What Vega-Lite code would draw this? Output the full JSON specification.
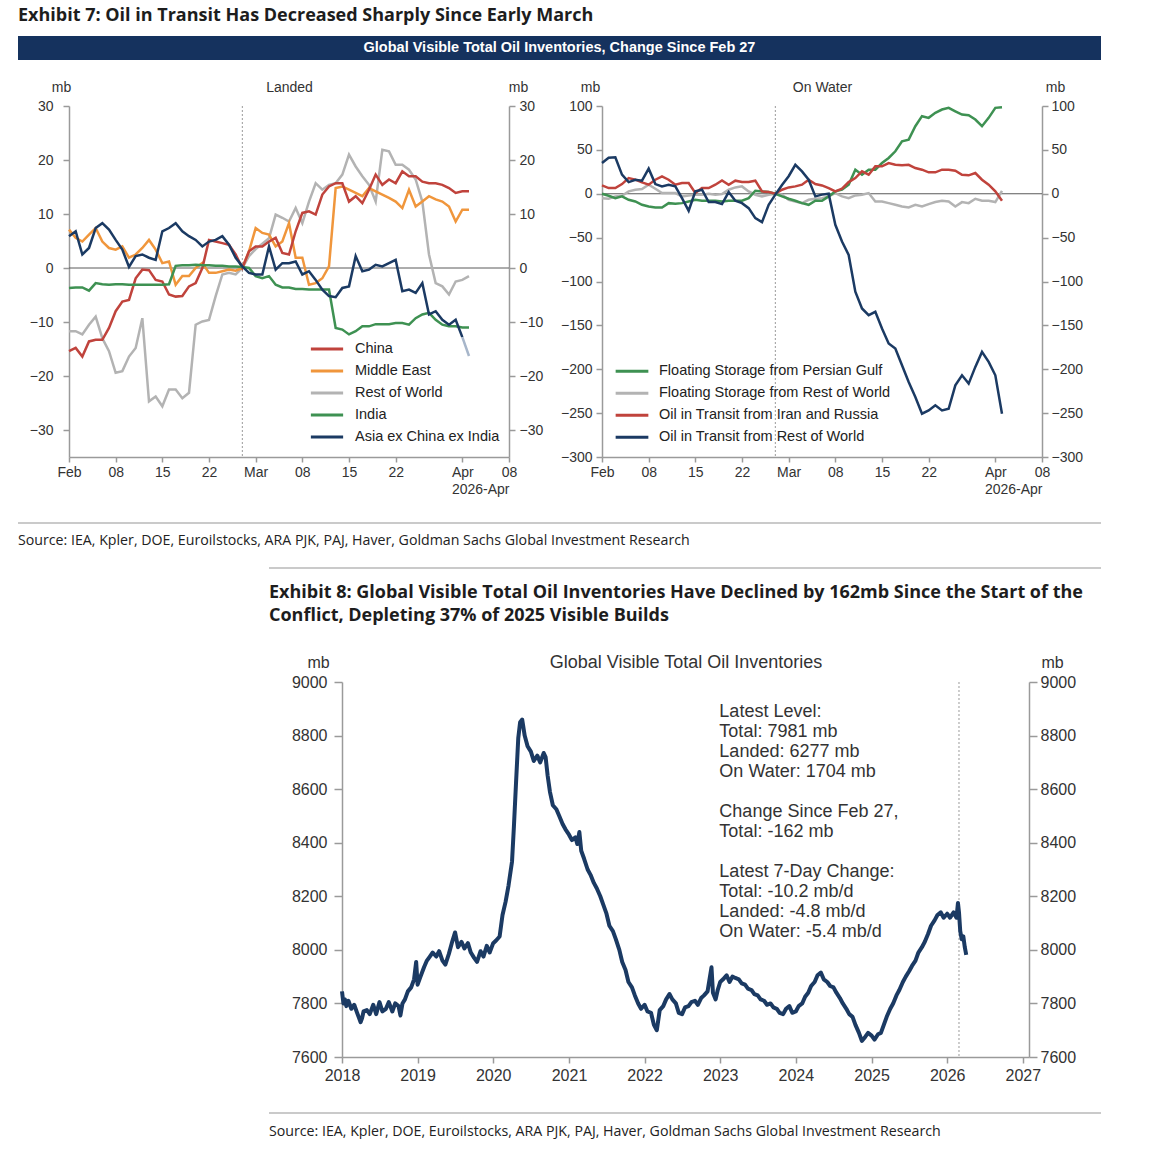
{
  "$schema": "https://vega.github.io/schema/vega-lite/v6.json",
  "padding": {"left": 17, "top": 7, "right": 0, "bottom": 0},
  "background": "white",
  "bounds": "flush",
  "spacing": 0,
  "resolve": {"scale": {"color": "independent"}, "legend": {"color": "independent"}},
  "config": {
    "view": {"stroke": null},
    "font": "Liberation Sans",
    "axis": {"grid": false, "domainColor": "#9a9a9a", "tickColor": "#9a9a9a", "domainWidth": 1.5, "tickWidth": 1.5, "labelColor": "#333333", "titleColor": "#333333", "labelFont": "Liberation Sans", "titleFont": "Liberation Sans", "titleFontWeight": "normal", "labelFlush": false, "labelOverlap": false},
    "legend": {"labelFont": "Liberation Sans", "labelColor": "#222222", "labelLimit": 400}
  },
  "datasets": {
    "landed": [
      {"date":"2026-02-01","China":-15.4,"Middle East":7.1,"Rest of World":-11.7,"India":-3.7,"Asia ex China ex India":5.9},
      {"date":"2026-02-02","China":-14.8,"Middle East":5.6,"Rest of World":-11.7,"India":-3.6,"Asia ex China ex India":6.8},
      {"date":"2026-02-03","China":-16.4,"Middle East":4.9,"Rest of World":-12.3,"India":-3.6,"Asia ex China ex India":2.5},
      {"date":"2026-02-04","China":-13.6,"Middle East":6.2,"Rest of World":-10.5,"India":-4.2,"Asia ex China ex India":3.7},
      {"date":"2026-02-05","China":-13.3,"Middle East":7.4,"Rest of World":-9.0,"India":-2.8,"Asia ex China ex India":7.4},
      {"date":"2026-02-06","China":-13.3,"Middle East":4.9,"Rest of World":-13.0,"India":-3.0,"Asia ex China ex India":8.3},
      {"date":"2026-02-07","China":-11.1,"Middle East":3.7,"Rest of World":-15.4,"India":-3.1,"Asia ex China ex India":7.1},
      {"date":"2026-02-08","China":-8.0,"Middle East":3.4,"Rest of World":-19.4,"India":-3.0,"Asia ex China ex India":5.2},
      {"date":"2026-02-09","China":-6.2,"Middle East":4.0,"Rest of World":-19.1,"India":-3.0,"Asia ex China ex India":3.4},
      {"date":"2026-02-10","China":-5.9,"Middle East":1.9,"Rest of World":-16.4,"India":-3.1,"Asia ex China ex India":0.2},
      {"date":"2026-02-11","China":-1.9,"Middle East":2.5,"Rest of World":-14.8,"India":-3.1,"Asia ex China ex India":2.2},
      {"date":"2026-02-12","China":-0.3,"Middle East":3.7,"Rest of World":-9.3,"India":-3.1,"Asia ex China ex India":2.5},
      {"date":"2026-02-13","China":-0.4,"Middle East":5.2,"Rest of World":-24.7,"India":-3.1,"Asia ex China ex India":1.9},
      {"date":"2026-02-14","China":-2.2,"Middle East":3.4,"Rest of World":-23.8,"India":-3.1,"Asia ex China ex India":1.5},
      {"date":"2026-02-15","China":-2.5,"Middle East":0.9,"Rest of World":-25.6,"India":-3.1,"Asia ex China ex India":6.8},
      {"date":"2026-02-16","China":-4.9,"Middle East":1.2,"Rest of World":-22.5,"India":-3.0,"Asia ex China ex India":7.4},
      {"date":"2026-02-17","China":-5.3,"Middle East":-3.1,"Rest of World":-22.5,"India":0.4,"Asia ex China ex India":8.3},
      {"date":"2026-02-18","China":-5.2,"Middle East":-1.5,"Rest of World":-24.1,"India":0.5,"Asia ex China ex India":6.8},
      {"date":"2026-02-19","China":-3.4,"Middle East":-1.5,"Rest of World":-23.1,"India":0.5,"Asia ex China ex India":5.9},
      {"date":"2026-02-20","China":-2.8,"Middle East":0.0,"Rest of World":-10.5,"India":0.6,"Asia ex China ex India":5.2},
      {"date":"2026-02-21","China":0.0,"Middle East":0.9,"Rest of World":-9.9,"India":0.5,"Asia ex China ex India":4.0},
      {"date":"2026-02-22","China":5.2,"Middle East":-0.9,"Rest of World":-9.6,"India":0.5,"Asia ex China ex India":4.9},
      {"date":"2026-02-23","China":4.9,"Middle East":-0.9,"Rest of World":-5.2,"India":0.4,"Asia ex China ex India":5.2},
      {"date":"2026-02-24","China":4.6,"Middle East":-0.6,"Rest of World":-1.2,"India":0.4,"Asia ex China ex India":5.9},
      {"date":"2026-02-25","China":4.3,"Middle East":-0.3,"Rest of World":-0.9,"India":0.3,"Asia ex China ex India":4.3},
      {"date":"2026-02-26","China":2.5,"Middle East":-0.5,"Rest of World":-1.2,"India":0.3,"Asia ex China ex India":1.9},
      {"date":"2026-02-27","China":0.0,"Middle East":0.0,"Rest of World":0.0,"India":0.2,"Asia ex China ex India":0.3},
      {"date":"2026-02-28","China":3.1,"Middle East":3.1,"Rest of World":2.2,"India":0.0,"Asia ex China ex India":-0.9},
      {"date":"2026-03-01","China":4.0,"Middle East":7.4,"Rest of World":3.5,"India":-1.5,"Asia ex China ex India":-1.2},
      {"date":"2026-03-02","China":4.0,"Middle East":6.5,"Rest of World":4.5,"India":-1.9,"Asia ex China ex India":-1.2},
      {"date":"2026-03-03","China":4.9,"Middle East":6.2,"Rest of World":5.5,"India":-1.5,"Asia ex China ex India":4.0},
      {"date":"2026-03-04","China":5.6,"Middle East":4.0,"Rest of World":9.9,"India":-3.1,"Asia ex China ex India":-0.3},
      {"date":"2026-03-05","China":2.8,"Middle East":4.9,"Rest of World":9.3,"India":-3.6,"Asia ex China ex India":0.9},
      {"date":"2026-03-06","China":2.5,"Middle East":8.3,"Rest of World":8.6,"India":-3.6,"Asia ex China ex India":0.9},
      {"date":"2026-03-07","China":6.8,"Middle East":1.9,"Rest of World":11.1,"India":-3.9,"Asia ex China ex India":1.2},
      {"date":"2026-03-08","China":10.2,"Middle East":1.9,"Rest of World":8.3,"India":-3.9,"Asia ex China ex India":-1.2},
      {"date":"2026-03-09","China":10.5,"Middle East":-3.1,"Rest of World":12.3,"India":-4.0,"Asia ex China ex India":-0.6},
      {"date":"2026-03-10","China":9.9,"Middle East":-2.8,"Rest of World":15.7,"India":-4.0,"Asia ex China ex India":-2.2},
      {"date":"2026-03-11","China":13.6,"Middle East":-1.9,"Rest of World":14.5,"India":-4.0,"Asia ex China ex India":-4.0},
      {"date":"2026-03-12","China":15.1,"Middle East":0.3,"Rest of World":15.4,"India":-4.0,"Asia ex China ex India":-5.2},
      {"date":"2026-03-13","China":15.7,"Middle East":14.8,"Rest of World":15.7,"India":-11.1,"Asia ex China ex India":-5.4},
      {"date":"2026-03-14","China":15.7,"Middle East":15.1,"Rest of World":17.3,"India":-11.4,"Asia ex China ex India":-3.7},
      {"date":"2026-03-15","China":12.3,"Middle East":14.5,"Rest of World":21.0,"India":-12.3,"Asia ex China ex India":-3.4},
      {"date":"2026-03-16","China":13.3,"Middle East":13.9,"Rest of World":18.8,"India":-11.7,"Asia ex China ex India":2.2},
      {"date":"2026-03-17","China":12.0,"Middle East":13.3,"Rest of World":17.0,"India":-10.8,"Asia ex China ex India":-0.6},
      {"date":"2026-03-18","China":14.5,"Middle East":14.8,"Rest of World":15.4,"India":-10.8,"Asia ex China ex India":-0.3},
      {"date":"2026-03-19","China":17.3,"Middle East":14.2,"Rest of World":12.3,"India":-10.4,"Asia ex China ex India":0.6},
      {"date":"2026-03-20","China":15.4,"Middle East":13.6,"Rest of World":21.9,"India":-10.4,"Asia ex China ex India":0.3},
      {"date":"2026-03-21","China":16.4,"Middle East":13.0,"Rest of World":21.6,"India":-10.4,"Asia ex China ex India":0.9},
      {"date":"2026-03-22","China":15.7,"Middle East":12.3,"Rest of World":19.1,"India":-10.2,"Asia ex China ex India":1.5},
      {"date":"2026-03-23","China":17.9,"Middle East":11.1,"Rest of World":19.1,"India":-10.2,"Asia ex China ex India":-4.3},
      {"date":"2026-03-24","China":17.0,"Middle East":14.5,"Rest of World":18.2,"India":-10.5,"Asia ex China ex India":-4.0},
      {"date":"2026-03-25","China":17.0,"Middle East":11.4,"Rest of World":16.4,"India":-9.3,"Asia ex China ex India":-4.6},
      {"date":"2026-03-26","China":16.0,"Middle East":12.3,"Rest of World":12.3,"India":-8.6,"Asia ex China ex India":-2.8},
      {"date":"2026-03-27","China":15.7,"Middle East":13.3,"Rest of World":2.5,"India":-8.3,"Asia ex China ex India":-8.6},
      {"date":"2026-03-28","China":15.7,"Middle East":12.7,"Rest of World":-2.8,"India":-9.6,"Asia ex China ex India":-8.0},
      {"date":"2026-03-29","China":15.4,"Middle East":12.3,"Rest of World":-3.4,"India":-10.5,"Asia ex China ex India":-9.6},
      {"date":"2026-03-30","China":14.8,"Middle East":11.4,"Rest of World":-4.9,"India":-10.8,"Asia ex China ex India":-10.5},
      {"date":"2026-03-31","China":13.9,"Middle East":8.6,"Rest of World":-2.5,"India":-10.8,"Asia ex China ex India":-9.6},
      {"date":"2026-04-01","China":14.2,"Middle East":10.8,"Rest of World":-2.2,"India":-11.0,"Asia ex China ex India":-12.8},
      {"date":"2026-04-02","China":14.2,"Middle East":10.8,"Rest of World":-1.5,"India":-11.0,"Asia ex China ex India":null}
    ],
    "water": [
      {"date":"2026-02-01","Floating Storage from Persian Gulf":0,"Floating Storage from Rest of World":-5,"Oil in Transit from Iran and Russia":9.5,"Oil in Transit from Rest of World":35},
      {"date":"2026-02-02","Floating Storage from Persian Gulf":-2.3,"Floating Storage from Rest of World":-5.7,"Oil in Transit from Iran and Russia":6.5,"Oil in Transit from Rest of World":41},
      {"date":"2026-02-03","Floating Storage from Persian Gulf":-5,"Floating Storage from Rest of World":-3,"Oil in Transit from Iran and Russia":6.5,"Oil in Transit from Rest of World":41.5},
      {"date":"2026-02-04","Floating Storage from Persian Gulf":-3,"Floating Storage from Rest of World":-2.3,"Oil in Transit from Iran and Russia":11,"Oil in Transit from Rest of World":21.7},
      {"date":"2026-02-05","Floating Storage from Persian Gulf":-6.9,"Floating Storage from Rest of World":2.7,"Oil in Transit from Iran and Russia":17.9,"Oil in Transit from Rest of World":13.3},
      {"date":"2026-02-06","Floating Storage from Persian Gulf":-8.8,"Floating Storage from Rest of World":4.6,"Oil in Transit from Iran and Russia":16,"Oil in Transit from Rest of World":16},
      {"date":"2026-02-07","Floating Storage from Persian Gulf":-12.6,"Floating Storage from Rest of World":5.3,"Oil in Transit from Iran and Russia":13,"Oil in Transit from Rest of World":14.9},
      {"date":"2026-02-08","Floating Storage from Persian Gulf":-14.5,"Floating Storage from Rest of World":10.3,"Oil in Transit from Iran and Russia":10.3,"Oil in Transit from Rest of World":28.6},
      {"date":"2026-02-09","Floating Storage from Persian Gulf":-15.6,"Floating Storage from Rest of World":5.7,"Oil in Transit from Iran and Russia":16,"Oil in Transit from Rest of World":11},
      {"date":"2026-02-10","Floating Storage from Persian Gulf":-15.6,"Floating Storage from Rest of World":0.8,"Oil in Transit from Iran and Russia":19.8,"Oil in Transit from Rest of World":8.4},
      {"date":"2026-02-11","Floating Storage from Persian Gulf":-10.7,"Floating Storage from Rest of World":0.8,"Oil in Transit from Iran and Russia":16,"Oil in Transit from Rest of World":10.3},
      {"date":"2026-02-12","Floating Storage from Persian Gulf":-11.4,"Floating Storage from Rest of World":0.8,"Oil in Transit from Iran and Russia":10.3,"Oil in Transit from Rest of World":8.4},
      {"date":"2026-02-13","Floating Storage from Persian Gulf":-10.7,"Floating Storage from Rest of World":-3,"Oil in Transit from Iran and Russia":12.2,"Oil in Transit from Rest of World":-5},
      {"date":"2026-02-14","Floating Storage from Persian Gulf":-8.8,"Floating Storage from Rest of World":-1.9,"Oil in Transit from Iran and Russia":12.2,"Oil in Transit from Rest of World":-19.4},
      {"date":"2026-02-15","Floating Storage from Persian Gulf":-6.9,"Floating Storage from Rest of World":-1.1,"Oil in Transit from Iran and Russia":0.8,"Oil in Transit from Rest of World":2.7},
      {"date":"2026-02-16","Floating Storage from Persian Gulf":-8,"Floating Storage from Rest of World":-1.1,"Oil in Transit from Iran and Russia":6.5,"Oil in Transit from Rest of World":4.6},
      {"date":"2026-02-17","Floating Storage from Persian Gulf":-8,"Floating Storage from Rest of World":0,"Oil in Transit from Iran and Russia":6.5,"Oil in Transit from Rest of World":-9.5},
      {"date":"2026-02-18","Floating Storage from Persian Gulf":-8,"Floating Storage from Rest of World":-1.1,"Oil in Transit from Iran and Russia":10.3,"Oil in Transit from Rest of World":-9.5},
      {"date":"2026-02-19","Floating Storage from Persian Gulf":-8.8,"Floating Storage from Rest of World":-0.4,"Oil in Transit from Iran and Russia":15.2,"Oil in Transit from Rest of World":-11.8},
      {"date":"2026-02-20","Floating Storage from Persian Gulf":-8,"Floating Storage from Rest of World":4.6,"Oil in Transit from Iran and Russia":10.3,"Oil in Transit from Rest of World":1.9},
      {"date":"2026-02-21","Floating Storage from Persian Gulf":-8,"Floating Storage from Rest of World":7.2,"Oil in Transit from Iran and Russia":14.9,"Oil in Transit from Rest of World":-8},
      {"date":"2026-02-22","Floating Storage from Persian Gulf":-8,"Floating Storage from Rest of World":8.4,"Oil in Transit from Iran and Russia":13.3,"Oil in Transit from Rest of World":-10.7},
      {"date":"2026-02-23","Floating Storage from Persian Gulf":-5,"Floating Storage from Rest of World":2.7,"Oil in Transit from Iran and Russia":13.3,"Oil in Transit from Rest of World":-16.4},
      {"date":"2026-02-24","Floating Storage from Persian Gulf":3.4,"Floating Storage from Rest of World":-1.1,"Oil in Transit from Iran and Russia":14.9,"Oil in Transit from Rest of World":-27.8},
      {"date":"2026-02-25","Floating Storage from Persian Gulf":2.7,"Floating Storage from Rest of World":-3,"Oil in Transit from Iran and Russia":2.7,"Oil in Transit from Rest of World":-32.4},
      {"date":"2026-02-26","Floating Storage from Persian Gulf":1.9,"Floating Storage from Rest of World":-1.1,"Oil in Transit from Iran and Russia":1.9,"Oil in Transit from Rest of World":-12.6},
      {"date":"2026-02-27","Floating Storage from Persian Gulf":0,"Floating Storage from Rest of World":0,"Oil in Transit from Iran and Russia":0,"Oil in Transit from Rest of World":-1},
      {"date":"2026-02-28","Floating Storage from Persian Gulf":-3,"Floating Storage from Rest of World":-1,"Oil in Transit from Iran and Russia":4.6,"Oil in Transit from Rest of World":10},
      {"date":"2026-03-01","Floating Storage from Persian Gulf":-5.7,"Floating Storage from Rest of World":-6.9,"Oil in Transit from Iran and Russia":7.2,"Oil in Transit from Rest of World":20},
      {"date":"2026-03-02","Floating Storage from Persian Gulf":-8,"Floating Storage from Rest of World":-8.8,"Oil in Transit from Iran and Russia":8.4,"Oil in Transit from Rest of World":33},
      {"date":"2026-03-03","Floating Storage from Persian Gulf":-10.7,"Floating Storage from Rest of World":-10.7,"Oil in Transit from Iran and Russia":10.3,"Oil in Transit from Rest of World":25.5},
      {"date":"2026-03-04","Floating Storage from Persian Gulf":-12.6,"Floating Storage from Rest of World":-6.9,"Oil in Transit from Iran and Russia":16,"Oil in Transit from Rest of World":16},
      {"date":"2026-03-05","Floating Storage from Persian Gulf":-8,"Floating Storage from Rest of World":-5.7,"Oil in Transit from Iran and Russia":11,"Oil in Transit from Rest of World":-3},
      {"date":"2026-03-06","Floating Storage from Persian Gulf":-8,"Floating Storage from Rest of World":-5,"Oil in Transit from Iran and Russia":9.5,"Oil in Transit from Rest of World":-1},
      {"date":"2026-03-07","Floating Storage from Persian Gulf":-3,"Floating Storage from Rest of World":-3,"Oil in Transit from Iran and Russia":6.5,"Oil in Transit from Rest of World":0},
      {"date":"2026-03-08","Floating Storage from Persian Gulf":2.7,"Floating Storage from Rest of World":0.8,"Oil in Transit from Iran and Russia":2.7,"Oil in Transit from Rest of World":-35.4},
      {"date":"2026-03-09","Floating Storage from Persian Gulf":4.6,"Floating Storage from Rest of World":-3,"Oil in Transit from Iran and Russia":5.7,"Oil in Transit from Rest of World":-54.5},
      {"date":"2026-03-10","Floating Storage from Persian Gulf":10.3,"Floating Storage from Rest of World":-5,"Oil in Transit from Iran and Russia":13.3,"Oil in Transit from Rest of World":-69.7},
      {"date":"2026-03-11","Floating Storage from Persian Gulf":27.4,"Floating Storage from Rest of World":-1.9,"Oil in Transit from Iran and Russia":17.9,"Oil in Transit from Rest of World":-111.6},
      {"date":"2026-03-12","Floating Storage from Persian Gulf":21.7,"Floating Storage from Rest of World":-1.1,"Oil in Transit from Iran and Russia":25.5,"Oil in Transit from Rest of World":-130.7},
      {"date":"2026-03-13","Floating Storage from Persian Gulf":27.4,"Floating Storage from Rest of World":0.8,"Oil in Transit from Iran and Russia":21.7,"Oil in Transit from Rest of World":-138.3},
      {"date":"2026-03-14","Floating Storage from Persian Gulf":27.4,"Floating Storage from Rest of World":-8.8,"Oil in Transit from Iran and Russia":31.2,"Oil in Transit from Rest of World":-134.5},
      {"date":"2026-03-15","Floating Storage from Persian Gulf":35,"Floating Storage from Rest of World":-8.8,"Oil in Transit from Iran and Russia":31.2,"Oil in Transit from Rest of World":-153.5},
      {"date":"2026-03-16","Floating Storage from Persian Gulf":40.8,"Floating Storage from Rest of World":-10.7,"Oil in Transit from Iran and Russia":35,"Oil in Transit from Rest of World":-170.7},
      {"date":"2026-03-17","Floating Storage from Persian Gulf":48.4,"Floating Storage from Rest of World":-12.6,"Oil in Transit from Iran and Russia":33,"Oil in Transit from Rest of World":-176.4},
      {"date":"2026-03-18","Floating Storage from Persian Gulf":59.8,"Floating Storage from Rest of World":-14.5,"Oil in Transit from Iran and Russia":32.4,"Oil in Transit from Rest of World":-195.4},
      {"date":"2026-03-19","Floating Storage from Persian Gulf":61.7,"Floating Storage from Rest of World":-15.6,"Oil in Transit from Iran and Russia":33,"Oil in Transit from Rest of World":-214.5},
      {"date":"2026-03-20","Floating Storage from Persian Gulf":77,"Floating Storage from Rest of World":-12.6,"Oil in Transit from Iran and Russia":29.3,"Oil in Transit from Rest of World":-231.6},
      {"date":"2026-03-21","Floating Storage from Persian Gulf":88.4,"Floating Storage from Rest of World":-14.5,"Oil in Transit from Iran and Russia":27.4,"Oil in Transit from Rest of World":-250.7},
      {"date":"2026-03-22","Floating Storage from Persian Gulf":86.5,"Floating Storage from Rest of World":-11.8,"Oil in Transit from Iran and Russia":24.4,"Oil in Transit from Rest of World":-246.9},
      {"date":"2026-03-23","Floating Storage from Persian Gulf":92.2,"Floating Storage from Rest of World":-9.5,"Oil in Transit from Iran and Russia":24.4,"Oil in Transit from Rest of World":-241.1},
      {"date":"2026-03-24","Floating Storage from Persian Gulf":96,"Floating Storage from Rest of World":-8,"Oil in Transit from Iran and Russia":27.4,"Oil in Transit from Rest of World":-246.9},
      {"date":"2026-03-25","Floating Storage from Persian Gulf":97.9,"Floating Storage from Rest of World":-8.8,"Oil in Transit from Iran and Russia":27.4,"Oil in Transit from Rest of World":-245},
      {"date":"2026-03-26","Floating Storage from Persian Gulf":94,"Floating Storage from Rest of World":-14.5,"Oil in Transit from Iran and Russia":26.3,"Oil in Transit from Rest of World":-218.3},
      {"date":"2026-03-27","Floating Storage from Persian Gulf":90.3,"Floating Storage from Rest of World":-9.5,"Oil in Transit from Iran and Russia":21.7,"Oil in Transit from Rest of World":-206.9},
      {"date":"2026-03-28","Floating Storage from Persian Gulf":89.5,"Floating Storage from Rest of World":-10.7,"Oil in Transit from Iran and Russia":21,"Oil in Transit from Rest of World":-216.4},
      {"date":"2026-03-29","Floating Storage from Persian Gulf":84.6,"Floating Storage from Rest of World":-5.7,"Oil in Transit from Iran and Russia":23.6,"Oil in Transit from Rest of World":-197.3},
      {"date":"2026-03-30","Floating Storage from Persian Gulf":77,"Floating Storage from Rest of World":-8,"Oil in Transit from Iran and Russia":16,"Oil in Transit from Rest of World":-180.2},
      {"date":"2026-03-31","Floating Storage from Persian Gulf":86.5,"Floating Storage from Rest of World":-8,"Oil in Transit from Iran and Russia":10.3,"Oil in Transit from Rest of World":-191.6},
      {"date":"2026-04-01","Floating Storage from Persian Gulf":97.9,"Floating Storage from Rest of World":-9.5,"Oil in Transit from Iran and Russia":2.7,"Oil in Transit from Rest of World":-206.9},
      {"date":"2026-04-02","Floating Storage from Persian Gulf":98.7,"Floating Storage from Rest of World":3.4,"Oil in Transit from Iran and Russia":-8,"Oil in Transit from Rest of World":-250.7}
    ],
    "total": [
      {"date":"2018-01-01","v":7845},{"date":"2018-01-08","v":7800},{"date":"2018-01-15","v":7815},{"date":"2018-01-22","v":7790},
      {"date":"2018-02-01","v":7810},{"date":"2018-02-15","v":7780},{"date":"2018-03-01","v":7795},{"date":"2018-03-15","v":7765},
      {"date":"2018-04-01","v":7730},{"date":"2018-04-08","v":7745},{"date":"2018-04-15","v":7770},{"date":"2018-05-01","v":7775},
      {"date":"2018-05-15","v":7760},{"date":"2018-06-01","v":7795},{"date":"2018-06-15","v":7760},{"date":"2018-07-01","v":7805},
      {"date":"2018-07-15","v":7770},{"date":"2018-08-01","v":7780},{"date":"2018-08-15","v":7805},{"date":"2018-09-01","v":7770},
      {"date":"2018-09-15","v":7800},{"date":"2018-10-01","v":7790},{"date":"2018-10-10","v":7755},{"date":"2018-10-20","v":7800},
      {"date":"2018-11-01","v":7815},{"date":"2018-11-15","v":7845},{"date":"2018-12-01","v":7860},{"date":"2018-12-15","v":7890},
      {"date":"2018-12-25","v":7955},{"date":"2019-01-01","v":7870},{"date":"2019-01-15","v":7900},{"date":"2019-02-01","v":7935},
      {"date":"2019-02-15","v":7960},{"date":"2019-03-01","v":7975},{"date":"2019-03-15","v":7990},{"date":"2019-04-01","v":7975},
      {"date":"2019-04-15","v":7995},{"date":"2019-05-01","v":7960},{"date":"2019-05-15","v":7945},{"date":"2019-06-01","v":7985},
      {"date":"2019-06-15","v":8025},{"date":"2019-07-01","v":8065},{"date":"2019-07-15","v":8010},{"date":"2019-08-01","v":8030},
      {"date":"2019-08-15","v":8005},{"date":"2019-09-01","v":8025},{"date":"2019-09-15","v":7990},{"date":"2019-10-01","v":7970},
      {"date":"2019-10-15","v":7955},{"date":"2019-11-01","v":7995},{"date":"2019-11-15","v":7975},{"date":"2019-12-01","v":8015},
      {"date":"2019-12-15","v":7990},{"date":"2020-01-01","v":8025},{"date":"2020-01-15","v":8035},{"date":"2020-02-01","v":8050},
      {"date":"2020-02-15","v":8130},{"date":"2020-03-01","v":8180},{"date":"2020-03-15","v":8240},{"date":"2020-04-01","v":8330},
      {"date":"2020-04-10","v":8460},{"date":"2020-04-20","v":8620},{"date":"2020-05-01","v":8790},{"date":"2020-05-10","v":8850},
      {"date":"2020-05-20","v":8860},{"date":"2020-06-01","v":8800},{"date":"2020-06-15","v":8760},{"date":"2020-07-01","v":8740},
      {"date":"2020-07-15","v":8705},{"date":"2020-08-01","v":8725},{"date":"2020-08-15","v":8700},{"date":"2020-09-01","v":8735},
      {"date":"2020-09-10","v":8720},{"date":"2020-09-20","v":8650},{"date":"2020-10-01","v":8590},{"date":"2020-10-15","v":8540},
      {"date":"2020-11-01","v":8525},{"date":"2020-11-15","v":8500},{"date":"2020-12-01","v":8470},{"date":"2020-12-15","v":8450},
      {"date":"2021-01-01","v":8430},{"date":"2021-01-15","v":8410},{"date":"2021-02-01","v":8420},{"date":"2021-02-10","v":8395},
      {"date":"2021-02-20","v":8440},{"date":"2021-03-01","v":8370},{"date":"2021-03-15","v":8340},{"date":"2021-04-01","v":8300},
      {"date":"2021-04-15","v":8280},{"date":"2021-05-01","v":8250},{"date":"2021-05-15","v":8230},{"date":"2021-06-01","v":8200},
      {"date":"2021-06-15","v":8170},{"date":"2021-07-01","v":8135},{"date":"2021-07-15","v":8090},{"date":"2021-08-01","v":8070},
      {"date":"2021-08-15","v":8040},{"date":"2021-09-01","v":8000},{"date":"2021-09-15","v":7955},{"date":"2021-10-01","v":7925},
      {"date":"2021-10-15","v":7880},{"date":"2021-11-01","v":7860},{"date":"2021-11-15","v":7830},{"date":"2021-12-01","v":7800},
      {"date":"2021-12-15","v":7780},{"date":"2022-01-01","v":7795},{"date":"2022-01-15","v":7770},{"date":"2022-02-01","v":7765},
      {"date":"2022-02-15","v":7720},{"date":"2022-03-01","v":7700},{"date":"2022-03-15","v":7775},{"date":"2022-04-01","v":7790},
      {"date":"2022-04-15","v":7815},{"date":"2022-05-01","v":7835},{"date":"2022-05-15","v":7815},{"date":"2022-06-01","v":7800},
      {"date":"2022-06-15","v":7765},{"date":"2022-07-01","v":7760},{"date":"2022-07-15","v":7785},{"date":"2022-08-01","v":7790},
      {"date":"2022-08-15","v":7805},{"date":"2022-09-01","v":7810},{"date":"2022-09-15","v":7795},{"date":"2022-10-01","v":7820},
      {"date":"2022-10-15","v":7830},{"date":"2022-11-01","v":7845},{"date":"2022-11-20","v":7935},{"date":"2022-11-27","v":7840},
      {"date":"2022-12-10","v":7815},{"date":"2022-12-20","v":7850},{"date":"2023-01-01","v":7880},{"date":"2023-01-15","v":7890},
      {"date":"2023-02-01","v":7905},{"date":"2023-02-15","v":7880},{"date":"2023-03-01","v":7900},{"date":"2023-03-15","v":7895},
      {"date":"2023-04-01","v":7890},{"date":"2023-04-15","v":7875},{"date":"2023-05-01","v":7870},{"date":"2023-05-15","v":7855},
      {"date":"2023-06-01","v":7850},{"date":"2023-06-15","v":7835},{"date":"2023-07-01","v":7830},{"date":"2023-07-15","v":7815},
      {"date":"2023-08-01","v":7810},{"date":"2023-08-15","v":7795},{"date":"2023-09-01","v":7800},{"date":"2023-09-15","v":7785},
      {"date":"2023-10-01","v":7780},{"date":"2023-10-15","v":7765},{"date":"2023-11-01","v":7760},{"date":"2023-11-15","v":7780},
      {"date":"2023-12-01","v":7790},{"date":"2023-12-15","v":7765},{"date":"2024-01-01","v":7770},{"date":"2024-01-15","v":7790},
      {"date":"2024-02-01","v":7800},{"date":"2024-02-15","v":7825},{"date":"2024-03-01","v":7840},{"date":"2024-03-15","v":7865},
      {"date":"2024-04-01","v":7880},{"date":"2024-04-15","v":7905},{"date":"2024-05-01","v":7915},{"date":"2024-05-15","v":7890},
      {"date":"2024-06-01","v":7880},{"date":"2024-06-15","v":7865},{"date":"2024-07-01","v":7860},{"date":"2024-07-15","v":7840},
      {"date":"2024-08-01","v":7820},{"date":"2024-08-15","v":7800},{"date":"2024-09-01","v":7780},{"date":"2024-09-15","v":7760},
      {"date":"2024-10-01","v":7750},{"date":"2024-10-15","v":7720},{"date":"2024-11-01","v":7690},{"date":"2024-11-15","v":7660},
      {"date":"2024-12-01","v":7675},{"date":"2024-12-15","v":7690},{"date":"2025-01-01","v":7680},{"date":"2025-01-15","v":7665},
      {"date":"2025-02-01","v":7685},{"date":"2025-02-15","v":7690},{"date":"2025-03-01","v":7720},{"date":"2025-03-15","v":7750},
      {"date":"2025-04-01","v":7780},{"date":"2025-04-15","v":7800},{"date":"2025-05-01","v":7830},{"date":"2025-05-15","v":7850},
      {"date":"2025-06-01","v":7880},{"date":"2025-06-15","v":7900},{"date":"2025-07-01","v":7920},{"date":"2025-07-15","v":7940},
      {"date":"2025-08-01","v":7960},{"date":"2025-08-15","v":7990},{"date":"2025-09-01","v":8010},{"date":"2025-09-15","v":8030},
      {"date":"2025-10-01","v":8060},{"date":"2025-10-15","v":8090},{"date":"2025-11-01","v":8110},{"date":"2025-11-15","v":8130},
      {"date":"2025-12-01","v":8140},{"date":"2025-12-15","v":8120},{"date":"2026-01-01","v":8135},{"date":"2026-01-15","v":8120},
      {"date":"2026-02-01","v":8140},{"date":"2026-02-15","v":8120},{"date":"2026-02-22","v":8175},{"date":"2026-02-27","v":8140},
      {"date":"2026-03-05","v":8070},{"date":"2026-03-12","v":8040},{"date":"2026-03-20","v":8050},{"date":"2026-03-27","v":8010},
      {"date":"2026-04-03","v":7981}
    ]
  },
  "vconcat": [
    {
      "width": 1083, "height": 24,
      "view": {"fill": "#15325e", "stroke": null},
      "title": {"text": "Exhibit 7: Oil in Transit Has Decreased Sharply Since Early March", "orient": "top", "anchor": "start", "frame": "group", "font": "Open Sans", "fontSize": 18, "fontWeight": "bold", "color": "#1d1d1d", "baseline": "alphabetic", "offset": -3},
      "data": {"values": [{"label": "Global Visible Total Oil Inventories, Change Since Feb 27"}]},
      "mark": {"type": "text", "color": "#ffffff", "font": "Liberation Sans", "fontSize": 14.5, "fontWeight": "bold"},
      "encoding": {"text": {"field": "label", "type": "nominal"}}
    },
    {"width": 1, "height": 46, "data": {"values": []}, "mark": "point"},
    {
      "bounds": "flush", "spacing": 0,
      "resolve": {"scale": {"color": "independent"}, "legend": {"color": "independent"}},
      "hconcat": [
        {"width": 51, "height": 351, "data": {"values": []}, "mark": "point"},
        {
          "width": 440, "height": 351,
          "resolve": {"axis": {"x": "independent", "y": "independent"}},
          "layer": [
            {
              "data": {"values": [{}]},
              "mark": {"type": "rule", "color": "#5a5a5a", "strokeWidth": 1},
              "encoding": {
                "y": {"datum": 0, "type": "quantitative", "scale": {"domain": [-35, 30], "nice": false, "zero": false},
                  "axis": {"orient": "right", "values": [-30, -20, -10, 0, 10, 20, 30], "format": "d", "title": "mb", "titleAngle": 0, "titleX": 9, "titleY": -15, "titleAlign": "center", "titleBaseline": "alphabetic", "titleFontSize": 14, "tickSize": 6, "labelPadding": 4, "labelFontSize": 14}}
              }
            },
            {
              "data": {"values": [{}]},
              "mark": {"type": "rule", "color": "#9a9a9a", "strokeWidth": 1, "strokeDash": [2, 2]},
              "encoding": {
                "x": {"datum": {"year": 2026, "month": 2, "date": 27, "utc": true}, "type": "temporal",
                  "scale": {"type": "utc", "domain": [{"year": 2026, "month": 2, "date": 1, "utc": true}, {"year": 2026, "month": 4, "date": 8, "utc": true}]},
                  "axis": {"orient": "top", "title": "Landed", "domain": false, "ticks": false, "labels": false, "titleX": 220, "titleY": -15, "titleAlign": "center", "titleBaseline": "alphabetic", "titleAngle": 0, "titleFontSize": 14, "titleColor": "#333333"}}
              }
            },
            {
              "data": {"name": "landed"},
              "transform": [{"fold": ["Rest of World", "Middle East", "China", "India", "Asia ex China ex India"], "as": ["s", "v"]}],
              "mark": {"type": "line", "strokeWidth": 2.5},
              "encoding": {
                "x": {"field": "date", "type": "temporal",
                  "scale": {"type": "utc", "domain": [{"year": 2026, "month": 2, "date": 1, "utc": true}, {"year": 2026, "month": 4, "date": 8, "utc": true}]},
                  "axis": {"orient": "bottom",
                    "values": [{"year": 2026, "month": 2, "date": 1, "utc": true}, {"year": 2026, "month": 2, "date": 8, "utc": true}, {"year": 2026, "month": 2, "date": 15, "utc": true}, {"year": 2026, "month": 2, "date": 22, "utc": true}, {"year": 2026, "month": 3, "date": 1, "utc": true}, {"year": 2026, "month": 3, "date": 8, "utc": true}, {"year": 2026, "month": 3, "date": 15, "utc": true}, {"year": 2026, "month": 3, "date": 22, "utc": true}, {"year": 2026, "month": 4, "date": 1, "utc": true}, {"year": 2026, "month": 4, "date": 8, "utc": true}],
                    "labelExpr": "utcdate(datum.value) == 1 ? utcFormat(datum.value, '%b') : utcFormat(datum.value, '%d')",
                    "title": "2026-Apr", "titleAnchor": "end", "titleFontSize": 14, "titlePadding": 3, "tickSize": 5, "labelPadding": 3, "labelFontSize": 14}},
                "y": {"field": "v", "type": "quantitative", "scale": {"domain": [-35, 30], "nice": false, "zero": false},
                  "axis": {"orient": "left", "values": [-30, -20, -10, 0, 10, 20, 30], "format": "d", "title": "mb", "titleAngle": 0, "titleX": -8, "titleY": -15, "titleAlign": "center", "titleBaseline": "alphabetic", "titleFontSize": 14, "tickSize": 6, "labelPadding": 10, "labelFontSize": 14}},
                "color": {"field": "s", "type": "nominal",
                  "scale": {"domain": ["China", "Middle East", "Rest of World", "India", "Asia ex China ex India"], "range": ["#c0433c", "#f0963c", "#b3b3b3", "#3e9152", "#1b3a63"]},
                  "legend": {"orient": "none", "legendX": 240, "legendY": 232.5, "title": null, "symbolType": "stroke", "symbolSize": 1040, "symbolStrokeWidth": 3, "clipHeight": 21.2, "rowPadding": 0, "labelFontSize": 14.5, "labelOffset": 10, "padding": 0}}
              }
            },
            {
              "data": {"values": [{"date": "2026-04-01", "v": -12.8}, {"date": "2026-04-02", "v": -16.3}]},
              "mark": {"type": "line", "strokeWidth": 2.5, "color": "#a7b6ca"},
              "encoding": {
                "x": {"field": "date", "type": "temporal", "scale": {"type": "utc", "domain": [{"year": 2026, "month": 2, "date": 1, "utc": true}, {"year": 2026, "month": 4, "date": 8, "utc": true}]}, "axis": null},
                "y": {"field": "v", "type": "quantitative", "scale": {"domain": [-35, 30], "nice": false, "zero": false}, "axis": null}
              }
            }
          ]
        },
        {"width": 93, "height": 351, "data": {"values": []}, "mark": "point"},
        {
          "width": 440, "height": 351,
          "resolve": {"axis": {"x": "independent", "y": "independent"}},
          "layer": [
            {
              "data": {"values": [{}]},
              "mark": {"type": "rule", "color": "#5a5a5a", "strokeWidth": 1},
              "encoding": {
                "y": {"datum": 0, "type": "quantitative", "scale": {"domain": [-300, 100], "nice": false, "zero": false},
                  "axis": {"orient": "right", "values": [-300, -250, -200, -150, -100, -50, 0, 50, 100], "format": "d", "title": "mb", "titleAngle": 0, "titleX": 13, "titleY": -15, "titleAlign": "center", "titleBaseline": "alphabetic", "titleFontSize": 14, "tickSize": 6, "labelPadding": 3, "labelFontSize": 14}}
              }
            },
            {
              "data": {"values": [{}]},
              "mark": {"type": "rule", "color": "#9a9a9a", "strokeWidth": 1, "strokeDash": [2, 2]},
              "encoding": {
                "x": {"datum": {"year": 2026, "month": 2, "date": 27, "utc": true}, "type": "temporal",
                  "scale": {"type": "utc", "domain": [{"year": 2026, "month": 2, "date": 1, "utc": true}, {"year": 2026, "month": 4, "date": 8, "utc": true}]},
                  "axis": {"orient": "top", "title": "On Water", "domain": false, "ticks": false, "labels": false, "titleX": 220, "titleY": -15, "titleAlign": "center", "titleBaseline": "alphabetic", "titleAngle": 0, "titleFontSize": 14, "titleColor": "#333333"}}
              }
            },
            {
              "data": {"name": "water"},
              "transform": [{"fold": ["Floating Storage from Rest of World", "Floating Storage from Persian Gulf", "Oil in Transit from Iran and Russia", "Oil in Transit from Rest of World"], "as": ["s", "v"]}],
              "mark": {"type": "line", "strokeWidth": 2.5},
              "encoding": {
                "x": {"field": "date", "type": "temporal",
                  "scale": {"type": "utc", "domain": [{"year": 2026, "month": 2, "date": 1, "utc": true}, {"year": 2026, "month": 4, "date": 8, "utc": true}]},
                  "axis": {"orient": "bottom",
                    "values": [{"year": 2026, "month": 2, "date": 1, "utc": true}, {"year": 2026, "month": 2, "date": 8, "utc": true}, {"year": 2026, "month": 2, "date": 15, "utc": true}, {"year": 2026, "month": 2, "date": 22, "utc": true}, {"year": 2026, "month": 3, "date": 1, "utc": true}, {"year": 2026, "month": 3, "date": 8, "utc": true}, {"year": 2026, "month": 3, "date": 15, "utc": true}, {"year": 2026, "month": 3, "date": 22, "utc": true}, {"year": 2026, "month": 4, "date": 1, "utc": true}, {"year": 2026, "month": 4, "date": 8, "utc": true}],
                    "labelExpr": "utcdate(datum.value) == 1 ? utcFormat(datum.value, '%b') : utcFormat(datum.value, '%d')",
                    "title": "2026-Apr", "titleAnchor": "end", "titleFontSize": 14, "titlePadding": 3, "tickSize": 5, "labelPadding": 3, "labelFontSize": 14}},
                "y": {"field": "v", "type": "quantitative", "scale": {"domain": [-300, 100], "nice": false, "zero": false},
                  "axis": {"orient": "left", "values": [-300, -250, -200, -150, -100, -50, 0, 50, 100], "format": "d", "title": "mb", "titleAngle": 0, "titleX": -12, "titleY": -15, "titleAlign": "center", "titleBaseline": "alphabetic", "titleFontSize": 14, "tickSize": 6, "labelPadding": 4, "labelFontSize": 14}},
                "color": {"field": "s", "type": "nominal",
                  "scale": {"domain": ["Floating Storage from Persian Gulf", "Floating Storage from Rest of World", "Oil in Transit from Iran and Russia", "Oil in Transit from Rest of World"], "range": ["#3e9152", "#b3b3b3", "#c0433c", "#1b3a63"]},
                  "legend": {"orient": "none", "legendX": 12, "legendY": 254.5, "title": null, "symbolType": "stroke", "symbolSize": 1070, "symbolStrokeWidth": 3, "clipHeight": 21.3, "rowPadding": 0, "labelFontSize": 14.5, "labelOffset": 9, "padding": 0, "labelLimit": 400}}
              }
            }
          ]
        }
      ]
    },
    {"width": 1, "height": 351, "data": {"values": []}, "mark": "point"},
    {
      "width": 1083, "height": 66,
      "data": {"values": [{"p": 0}]},
      "mark": {"type": "rule", "color": "#b8b8b8", "strokeWidth": 1.5},
      "encoding": {"y": {"field": "p", "type": "quantitative", "scale": {"domain": [0, 1]}, "axis": null}},
      "title": {"text": "Source: IEA, Kpler, DOE, Euroilstocks, ARA PJK, PAJ, Haver, Goldman Sachs Global Investment Research", "orient": "bottom", "anchor": "start", "frame": "group", "font": "Open Sans", "fontSize": 14.2, "fontWeight": "normal", "color": "#222222", "baseline": "alphabetic", "offset": 21}
    },
    {
      "bounds": "flush", "spacing": 0,
      "hconcat": [
        {"width": 251, "height": 45, "data": {"values": []}, "mark": "point"},
        {
          "width": 832, "height": 45,
          "data": {"values": [{"p": 0}]},
          "mark": {"type": "rule", "color": "#b8b8b8", "strokeWidth": 1.5},
          "encoding": {"y": {"field": "p", "type": "quantitative", "scale": {"domain": [0, 1]}, "axis": null}},
          "title": {"text": ["Exhibit 8: Global Visible Total Oil Inventories Have Declined by 162mb Since the Start of the", "Conflict, Depleting 37% of 2025 Visible Builds"], "orient": "bottom", "anchor": "start", "frame": "group", "font": "Open Sans", "fontSize": 18, "fontWeight": "bold", "color": "#1d1d1d", "baseline": "alphabetic", "lineHeight": 23.3, "offset": 29}
        }
      ]
    },
    {"width": 1, "height": 45, "data": {"values": []}, "mark": "point"},
    {"width": 1, "height": 114, "data": {"values": []}, "mark": "point"},
    {
      "bounds": "flush", "spacing": 0,
      "hconcat": [
        {"width": 324, "height": 375, "data": {"values": []}, "mark": "point"},
        {
          "width": 687, "height": 375,
          "resolve": {"axis": {"x": "independent", "y": "independent"}},
          "layer": [
            {
              "data": {"values": [{}]},
              "mark": {"type": "rule", "color": "#9a9a9a", "strokeWidth": 1, "strokeDash": [2, 2]},
              "encoding": {
                "x": {"datum": {"year": 2026, "month": 2, "date": 27, "utc": true}, "type": "temporal",
                  "scale": {"type": "utc", "domain": [{"year": 2018, "month": 1, "date": 1, "utc": true}, {"year": 2027, "month": 1, "date": 31, "utc": true}]},
                  "axis": {"orient": "top", "title": "Global Visible Total Oil Inventories", "domain": false, "ticks": false, "labels": false, "titleX": 343.5, "titleY": -15, "titleAlign": "center", "titleBaseline": "alphabetic", "titleAngle": 0, "titleFontSize": 18, "titleColor": "#333333"}}
              }
            },
            {
              "data": {"name": "total"},
              "mark": {"type": "line", "color": "#1b3a63", "strokeWidth": 4, "strokeJoin": "round"},
              "encoding": {
                "x": {"field": "date", "type": "temporal",
                  "scale": {"type": "utc", "domain": [{"year": 2018, "month": 1, "date": 1, "utc": true}, {"year": 2027, "month": 1, "date": 31, "utc": true}]},
                  "axis": {"orient": "bottom", "values": [{"year": 2018, "month": 1, "date": 1, "utc": true}, {"year": 2019, "month": 1, "date": 1, "utc": true}, {"year": 2020, "month": 1, "date": 1, "utc": true}, {"year": 2021, "month": 1, "date": 1, "utc": true}, {"year": 2022, "month": 1, "date": 1, "utc": true}, {"year": 2023, "month": 1, "date": 1, "utc": true}, {"year": 2024, "month": 1, "date": 1, "utc": true}, {"year": 2025, "month": 1, "date": 1, "utc": true}, {"year": 2026, "month": 1, "date": 1, "utc": true}, {"year": 2027, "month": 1, "date": 1, "utc": true}],
                    "labelExpr": "utcFormat(datum.value, '%Y')", "title": null, "tickSize": 6, "labelPadding": 4, "labelFontSize": 16}},
                "y": {"field": "v", "type": "quantitative", "scale": {"domain": [7600, 9000], "nice": false, "zero": false},
                  "axis": {"orient": "left", "values": [7600, 7800, 8000, 8200, 8400, 8600, 8800, 9000], "format": "d", "title": "mb", "titleAngle": 0, "titleX": -24, "titleY": -15, "titleAlign": "center", "titleBaseline": "alphabetic", "titleFontSize": 16, "tickSize": 8, "labelPadding": 7, "labelFontSize": 16}}
              }
            },
            {
              "data": {"values": [{"note": "Latest Level:\nTotal: 7981 mb\nLanded: 6277 mb\nOn Water: 1704 mb"}]},
              "mark": {"type": "text", "align": "left", "baseline": "alphabetic", "fontSize": 18, "lineHeight": 20, "lineBreak": "\n", "color": "#333333", "font": "Liberation Sans"},
              "encoding": {
                "x": {"datum": {"year": 2022, "month": 12, "date": 28, "utc": true}, "type": "temporal",
                  "scale": {"type": "utc", "domain": [{"year": 2018, "month": 1, "date": 1, "utc": true}, {"year": 2027, "month": 1, "date": 31, "utc": true}]}, "axis": null},
                "y": {"datum": 8871, "type": "quantitative", "scale": {"domain": [7600, 9000], "nice": false, "zero": false},
                  "axis": {"orient": "right", "values": [7600, 7800, 8000, 8200, 8400, 8600, 8800, 9000], "format": "d", "title": "mb", "titleAngle": 0, "titleX": 23, "titleY": -15, "titleAlign": "center", "titleBaseline": "alphabetic", "titleFontSize": 16, "tickSize": 8, "labelPadding": 3, "labelFontSize": 16}},
                "text": {"field": "note", "type": "nominal"}
              }
            },
            {
              "data": {"values": [{"note": "Change Since Feb 27,\nTotal: -162 mb"}]},
              "mark": {"type": "text", "align": "left", "baseline": "alphabetic", "fontSize": 18, "lineHeight": 20, "lineBreak": "\n", "color": "#333333", "font": "Liberation Sans"},
              "encoding": {
                "x": {"datum": {"year": 2022, "month": 12, "date": 28, "utc": true}, "type": "temporal",
                  "scale": {"type": "utc", "domain": [{"year": 2018, "month": 1, "date": 1, "utc": true}, {"year": 2027, "month": 1, "date": 31, "utc": true}]}, "axis": null},
                "y": {"datum": 8497, "type": "quantitative", "scale": {"domain": [7600, 9000], "nice": false, "zero": false}, "axis": null},
                "text": {"field": "note", "type": "nominal"}
              }
            },
            {
              "data": {"values": [{"note": "Latest 7-Day Change:\nTotal: -10.2 mb/d\nLanded: -4.8 mb/d\nOn Water: -5.4 mb/d"}]},
              "mark": {"type": "text", "align": "left", "baseline": "alphabetic", "fontSize": 18, "lineHeight": 20, "lineBreak": "\n", "color": "#333333", "font": "Liberation Sans"},
              "encoding": {
                "x": {"datum": {"year": 2022, "month": 12, "date": 28, "utc": true}, "type": "temporal",
                  "scale": {"type": "utc", "domain": [{"year": 2018, "month": 1, "date": 1, "utc": true}, {"year": 2027, "month": 1, "date": 31, "utc": true}]}, "axis": null},
                "y": {"datum": 8273, "type": "quantitative", "scale": {"domain": [7600, 9000], "nice": false, "zero": false}, "axis": null},
                "text": {"field": "note", "type": "nominal"}
              }
            }
          ]
        }
      ]
    },
    {"width": 1, "height": 375, "data": {"values": []}, "mark": "point"},
    {
      "bounds": "flush", "spacing": 0,
      "hconcat": [
        {"width": 251, "height": 56, "data": {"values": []}, "mark": "point"},
        {
          "width": 832, "height": 56,
          "data": {"values": [{"p": 0}]},
          "mark": {"type": "rule", "color": "#b8b8b8", "strokeWidth": 1.5},
          "encoding": {"y": {"field": "p", "type": "quantitative", "scale": {"domain": [0, 1]}, "axis": null}},
          "title": {"text": "Source: IEA, Kpler, DOE, Euroilstocks, ARA PJK, PAJ, Haver, Goldman Sachs Global Investment Research", "orient": "bottom", "anchor": "start", "frame": "group", "font": "Open Sans", "fontSize": 14.2, "fontWeight": "normal", "color": "#222222", "baseline": "alphabetic", "offset": 22}
        }
      ]
    },
    {"width": 1, "height": 56, "data": {"values": []}, "mark": "point"}
  ]
}
